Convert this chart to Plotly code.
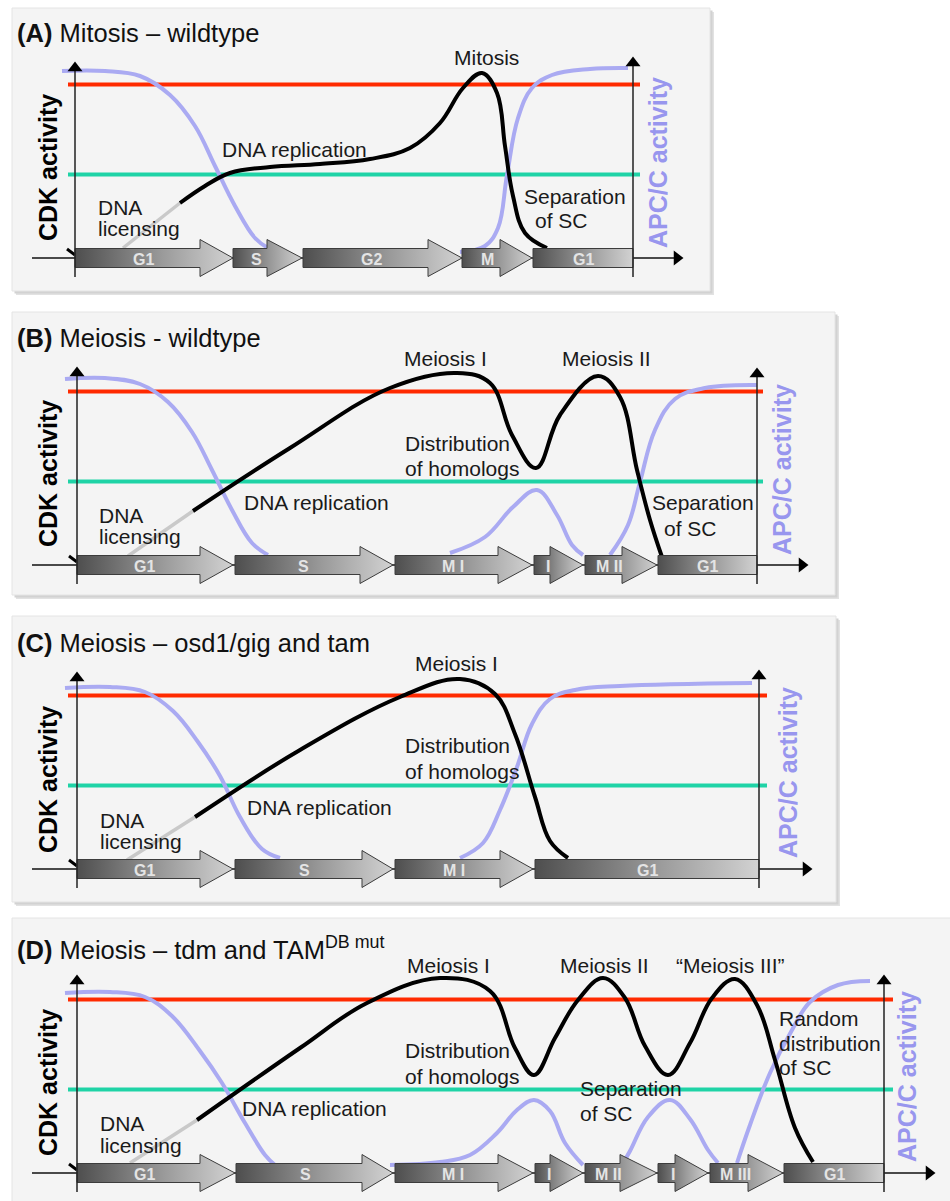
import plotly.graph_objects as go

W, H = 950, 1201
FONT = "Liberation Sans, Arial, Helvetica, sans-serif"

# ======================= DATA =======================
# threshold levels (activity units, 0 = time axis)
threshold_high = 173.5   # red line
threshold_low = 83.5     # green line

panel_letters = ["(A)", "(B)", "(C)", "(D)"]
panel_titles = ["Mitosis – wildtype", "Meiosis - wildtype",
                "Meiosis – osd1/gig and tam", "Meiosis – tdm and TAM<sup>DB mut</sup>"]

# ---- Panel A: mitosis wildtype ----
A_lic_x = [123, 150, 180]
A_lic_y = [10, 31, 55]
A_cdk_x = [180, 205, 230, 270, 320, 370, 410, 440, 463, 482, 497, 505, 513, 525, 547]
A_cdk_y = [55, 72, 85, 91, 94, 99, 110, 135, 170, 185, 165, 112, 62, 25, 10]
A_apc_x = [[62, 105, 140, 170, 195, 215, 235, 255, 268],
           [460, 485, 498, 507, 518, 532, 552, 590, 628]]
A_apc_y = [[187, 187, 182, 163, 132, 92, 52, 20, 10],
           [6, 12, 30, 83, 140, 170, 183, 189, 190]]
A_phase = ["G1", "S", "G2", "M", "G1"]
A_phase_start = [75, 233, 303, 462, 533]
A_phase_head = [200, 267, 428, 500, 633]
A_phase_end = [233, 302, 462, 532, 633]

# ---- Panel B: meiosis wildtype ----
B_lic_x = [128, 160, 193]
B_lic_y = [9, 31, 54]
B_cdk_x = [193, 290, 390, 457, 490, 512, 536, 560, 598, 620, 637, 650, 662]
B_cdk_y = [54, 117, 177, 192, 182, 130, 97, 150, 189, 168, 95, 45, 8]
B_apc_x = [[65, 105, 140, 168, 192, 212, 232, 252, 268],
           [450, 485, 513, 537, 557, 572, 583],
           [610, 628, 640, 655, 675, 705, 757]]
B_apc_y = [[186, 187, 181, 163, 133, 95, 55, 22, 10],
           [12, 28, 58, 75, 50, 20, 10],
           [10, 40, 83, 135, 166, 177, 180]]
B_phase = ["G1", "S", "M I", "I", "M II", "G1"]
B_phase_start = [77, 235, 395, 534, 585, 658]
B_phase_head = [200, 360, 498, 550, 622, 757]
B_phase_end = [233, 393, 532, 583, 657, 757]

# ---- Panel C: osd1/gig and tam ----
C_lic_x = [127, 160, 195]
C_lic_y = [9, 30, 52]
C_cdk_x = [195, 300, 400, 460, 495, 515, 535, 550, 568]
C_cdk_y = [52, 119, 172, 190, 175, 135, 72, 28, 11]
C_apc_x = [[65, 110, 145, 173, 198, 220, 240, 262, 280],
           [460, 483, 500, 517, 532, 550, 575, 620, 752]]
C_apc_y = [[181, 182, 177, 158, 127, 93, 52, 20, 11],
           [11, 26, 59, 102, 145, 170, 179, 183, 186]]
C_phase = ["G1", "S", "M I", "G1"]
C_phase_start = [77, 235, 395, 535]
C_phase_head = [200, 362, 500, 759]
C_phase_end = [233, 393, 533, 759]

# ---- Panel D: tdm and TAM DB mut ----
D_lic_x = [130, 163, 197]
D_lic_y = [10, 31, 53]
D_cdk_x = [197, 300, 367, 440, 490, 515, 534, 555, 578, 603, 625, 645, 668, 690, 712, 735, 757, 775, 795, 813]
D_cdk_y = [53, 125, 170, 195, 182, 125, 98, 135, 173, 195, 175, 127, 98, 130, 175, 194, 168, 113, 45, 11]
D_apc_x = [[65, 110, 145, 172, 200, 222, 245, 265, 275],
           [390, 440, 470, 497, 517, 534, 550, 565, 583],
           [622, 630, 648, 670, 690, 708, 718],
           [737, 750, 770, 792, 810, 838, 870]]
D_apc_y = [[180, 181, 176, 157, 122, 90, 50, 18, 8],
           [8, 11, 18, 40, 63, 73, 62, 30, 8],
           [8, 22, 56, 73, 54, 23, 10],
           [10, 48, 100, 143, 171, 188, 192]]
D_phase = ["G1", "S", "M I", "I", "M II", "I", "M III", "G1"]
D_phase_start = [77, 236, 395, 535, 585, 658, 710, 784]
D_phase_head = [200, 362, 498, 550, 620, 675, 748, 884]
D_phase_end = [235, 393, 533, 583, 657, 708, 783, 884]

# text labels per panel: (text, left x, pixel row)
A_labels = [("Mitosis", 452, 57), ("DNA replication", 220, 149), ("DNA", 96, 207), ("licensing", 96, 228),
            ("Separation", 522, 196), ("of SC", 533, 220)]
B_labels = [("Meiosis I", 402, 358), ("Meiosis II", 560, 358), ("Distribution", 403, 443),
            ("of homologs", 403, 468), ("DNA replication", 242, 502), ("DNA", 97, 515),
            ("licensing", 97, 536), ("Separation", 650, 502), ("of SC", 662, 528)]
C_labels = [("Meiosis I", 413, 663), ("Distribution", 403, 745), ("of homologs", 403, 771),
            ("DNA replication", 245, 807), ("DNA", 98, 820), ("licensing", 98, 841)]
D_labels = [("Meiosis I", 405, 965), ("Meiosis II", 558, 965), ("\u201cMeiosis III\u201d", 674, 965),
            ("Distribution", 403, 1050), ("of homologs", 403, 1076), ("Separation", 578, 1088),
            ("of SC", 578, 1113), ("Random", 777, 1018), ("distribution", 777, 1043), ("of SC", 777, 1067),
            ("DNA replication", 240, 1108), ("DNA", 98, 1123), ("licensing", 98, 1145)]

# ======================= LAYOUT GEOMETRY (pixels) =======================
panels = [
    dict(band=(0, 300), base=258, box=(12, 8, 710, 291), lx=75, rx=633, ltop=196, rtop=201, hax=(32, 683),
         lines=(68, 640), title_y=33, cdk_y=168, apc=(658, 163),
         lic=(A_lic_x, A_lic_y), cdk=(A_cdk_x, A_cdk_y), apcs=(A_apc_x, A_apc_y),
         ph=(A_phase, A_phase_start, A_phase_head, A_phase_end), labels=A_labels),
    dict(band=(300, 607), base=565, box=(12, 312, 835, 595), lx=77, rx=757, ltop=198, rtop=197, hax=(32, 808),
         lines=(68, 763), title_y=338, cdk_y=474, apc=(782, 470),
         lic=(B_lic_x, B_lic_y), cdk=(B_cdk_x, B_cdk_y), apcs=(B_apc_x, B_apc_y),
         ph=(B_phase, B_phase_start, B_phase_head, B_phase_end), labels=B_labels),
    dict(band=(607, 912), base=869, box=(12, 616, 836, 902), lx=77, rx=759, ltop=197, rtop=199, hax=(32, 812),
         lines=(68, 767), title_y=643, cdk_y=780, apc=(788, 773),
         lic=(C_lic_x, C_lic_y), cdk=(C_cdk_x, C_cdk_y), apcs=(C_apc_x, C_apc_y),
         ph=(C_phase, C_phase_start, C_phase_head, C_phase_end), labels=C_labels),
    dict(band=(912, 1201), base=1173, box=(12, 918, 960, 1215), lx=77, rx=884, ltop=198, rtop=198, hax=(32, 935),
         lines=(68, 893), title_y=948, cdk_y=1083, apc=(907, 1077),
         lic=(D_lic_x, D_lic_y), cdk=(D_cdk_x, D_cdk_y), apcs=(D_apc_x, D_apc_y),
         ph=(D_phase, D_phase_start, D_phase_head, D_phase_end), labels=D_labels),
]

RED = "#ff2a00"
GREEN = "#1fd3a6"
LAV = "#aaaaf2"
LAV_TEXT = "#9896ee"

fig = go.Figure()
layout_axes = {}
shapes = []
annotations = []

BODY = 9.5
HEAD = 18.5

for i, p in enumerate(panels):
    n = i + 1
    xa = "x" if n == 1 else f"x{n}"
    ya = "y" if n == 1 else f"y{n}"
    top, bot = p["band"]
    base = p["base"]
    layout_axes[("xaxis" if n == 1 else f"xaxis{n}")] = dict(range=[0, W], domain=[0, 1], visible=False,
                                                             anchor=ya, fixedrange=True)
    layout_axes[("yaxis" if n == 1 else f"yaxis{n}")] = dict(range=[base - bot, base - top],
                                                             domain=[1 - bot / H, 1 - top / H],
                                                             visible=False, anchor=xa, fixedrange=True)

    # panel box with soft shadow (paper coords)
    bx0, by0, bx1, by1 = p["box"]
    for off, col in [(4, "#e2e2e2"), (2.5, "#d2d2d2")]:
        shapes.append(dict(type="rect", xref="paper", yref="paper", layer="below",
                           x0=(bx0 + off) / W, x1=(bx1 + off) / W, y0=1 - (by1 + off) / H, y1=1 - (by0 + off) / H,
                           fillcolor=col, line=dict(width=0)))
    shapes.append(dict(type="rect", xref="paper", yref="paper", layer="below",
                       x0=bx0 / W, x1=bx1 / W, y0=1 - by1 / H, y1=1 - by0 / H,
                       fillcolor="#f4f4f4", line=dict(color="#e4e4e4", width=1)))

    def add(tr):
        tr.update(xaxis=xa, yaxis=ya, showlegend=False, hoverinfo="skip")
        fig.add_trace(tr)

    # time axis
    h0, h1 = p["hax"]
    add(go.Scatter(x=[h0, h1 - 6], y=[0, 0], mode="lines", line=dict(color="#111", width=1.5)))
    add(go.Scatter(x=[h1 - 6], y=[0], mode="markers",
                   marker=dict(symbol="triangle-right", size=13, color="#000", line=dict(width=0))))

    # thresholds
    l0, l1 = p["lines"]
    add(go.Scatter(x=[l0, l1], y=[threshold_high, threshold_high], mode="lines", line=dict(color=RED, width=4)))
    add(go.Scatter(x=[l0, l1], y=[threshold_low, threshold_low], mode="lines", line=dict(color=GREEN, width=4)))

    # APC/C activity
    ax_list, ay_list = p["apcs"]
    for sx, sy in zip(ax_list, ay_list):
        add(go.Scatter(x=sx, y=sy, mode="lines", line=dict(color=LAV, width=4, shape="spline", smoothing=1.1)))

    # CDK activity
    lx_, ly_ = p["lic"]
    add(go.Scatter(x=lx_, y=ly_, mode="lines", line=dict(color="#c9c9c9", width=3.5)))
    cx, cy = p["cdk"]
    add(go.Scatter(x=cx, y=cy, mode="lines", line=dict(color="#000", width=4, shape="spline", smoothing=1.1)))
    add(go.Scatter(x=[p["lx"] - 8, p["lx"]], y=[9, 3], mode="lines", line=dict(color="#000", width=3)))

    # phase arrows
    names, st, hd, en = p["ph"]
    for name, s, h, e in zip(names, st, hd, en):
        if e > h:
            px = [s, h, h, e, h, h, s, s]
            py = [BODY, BODY, HEAD, 0, -HEAD, -BODY, -BODY, BODY]
        else:
            px = [s, h, h, s, s]
            py = [BODY, BODY, -BODY, -BODY, BODY]
        add(go.Scatter(x=px, y=py, mode="lines", fill="toself",
                       fillgradient=dict(type="horizontal",
                                         colorscale=[[0, "#4e4e4e"], [0.55, "#9a9a9a"], [1, "#d2d2d2"]]),
                       line=dict(color="#3c3c3c", width=1)))
        annotations.append(dict(x=(s + h) / 2 + (6 if e > h else 0), y=-1, xref=xa, yref=ya, text=f"<b>{name}</b>",
                                showarrow=False, xanchor="center", yanchor="middle",
                                font=dict(size=16, color="#e4e4e4", family=FONT)))

    # vertical axes
    add(go.Scatter(x=[p["lx"], p["lx"]], y=[-19, p["ltop"] - 6], mode="lines", line=dict(color="#222", width=1.5)))
    add(go.Scatter(x=[p["lx"]], y=[p["ltop"] - 6], mode="markers",
                   marker=dict(symbol="triangle-up", size=13, color="#000", line=dict(width=0))))
    add(go.Scatter(x=[p["rx"], p["rx"]], y=[-19, p["rtop"] - 6], mode="lines", line=dict(color="#222", width=1.5)))
    add(go.Scatter(x=[p["rx"]], y=[p["rtop"] - 6], mode="markers",
                   marker=dict(symbol="triangle-up", size=13, color="#000", line=dict(width=0))))

    # title
    annotations.append(dict(x=15, y=base - p["title_y"], xref=xa, yref=ya,
                            text=f"<b>{panel_letters[i]}</b> {panel_titles[i]}", showarrow=False,
                            xanchor="left", yanchor="middle", font=dict(size=25.5, color="#111", family=FONT)))
    # axis titles
    annotations.append(dict(x=48, y=base - p["cdk_y"], xref=xa, yref=ya, text="<b>CDK activity</b>",
                            textangle=-90, showarrow=False, xanchor="center", yanchor="middle",
                            font=dict(size=25, color="#000", family=FONT)))
    annotations.append(dict(x=p["apc"][0], y=base - p["apc"][1], xref=xa, yref=ya, text="<b>APC/C activity</b>",
                            textangle=-90, showarrow=False, xanchor="center", yanchor="middle",
                            font=dict(size=25, color=LAV_TEXT, family=FONT)))
    # event labels
    for txt, tx, ty in p["labels"]:
        annotations.append(dict(x=tx, y=base - ty, xref=xa, yref=ya, text=txt, showarrow=False,
                                xanchor="left", yanchor="middle",
                                font=dict(size=21, color="#1a1a1a", family=FONT)))

fig.update_layout(width=W, height=H, autosize=False, margin=dict(l=0, r=0, t=0, b=0, pad=0),
                  paper_bgcolor="white", plot_bgcolor="rgba(0,0,0,0)", shapes=shapes,
                  annotations=annotations, showlegend=False, **layout_axes)

fig.write_html("out.html", config={"displayModeBar": False, "staticPlot": True},
               post_script="document.body.style.margin='0';")
